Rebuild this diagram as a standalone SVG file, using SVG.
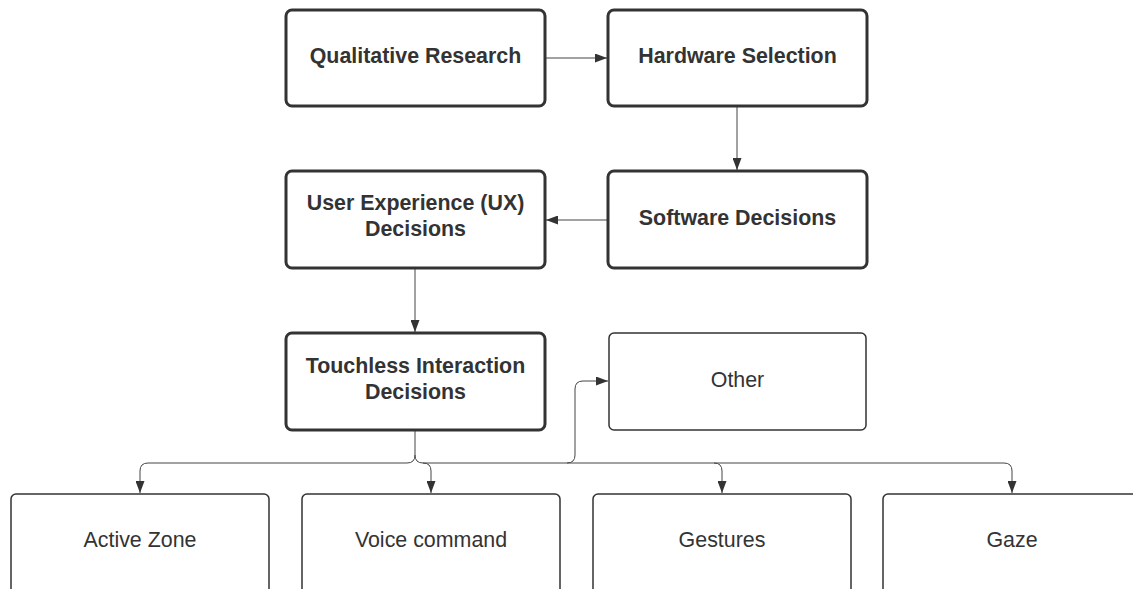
<svg xmlns="http://www.w3.org/2000/svg" width="1133" height="589" viewBox="0 0 1133 589">
<style>
.bold{fill:#fff;stroke:#333;stroke-width:3}
.thin{fill:#fff;stroke:#333;stroke-width:1.5}
.tb{font-family:"Liberation Sans",Arial,sans-serif;font-size:21.4px;font-weight:bold;fill:#333;text-anchor:middle;dominant-baseline:central}
.tn{font-family:"Liberation Sans",Arial,sans-serif;font-size:21.4px;fill:#333;text-anchor:middle;dominant-baseline:central}
.c{fill:none;stroke:#444;stroke-width:1;marker-end:url(#ah)}
</style>
<defs>
<marker id="ah" viewBox="0 0 12 9" refX="12" refY="4.5" markerWidth="12" markerHeight="9" markerUnits="userSpaceOnUse" orient="auto">
<path d="M0,0 L12,4.5 L0,9 Z" fill="#333"/>
</marker>
</defs>
<rect width="1133" height="589" fill="#fff"/>
<g id="connectors">
<path class="c" d="M545,58 H607"/>
<path class="c" d="M737,107 V170"/>
<path class="c" d="M608,220 H546"/>
<path class="c" d="M415,268 V332"/>
<path class="c" d="M415,431 V455 Q415,463 407,463 H148 Q140,463 140,471 V493"/>
<path class="c" d="M415,455 Q415,463 423,463 Q431,463 431,471 V493"/>
<path class="c" d="M423,463 H567 Q575,463 575,455 V389 Q575,381 583,381 H608"/>
<path class="c" d="M567,463 H714 Q722,463 722,471 V493"/>
<path class="c" d="M714,463 H1004 Q1012,463 1012,471 V493"/>
</g>
<g id="n-qualitative"><rect class="bold" x="286" y="10" width="259" height="96" rx="6"/><text class="tb" x="415.5" y="56">Qualitative Research</text></g>
<g id="n-hardware"><rect class="bold" x="608" y="10" width="259" height="96" rx="6"/><text class="tb" x="737.5" y="56">Hardware Selection</text></g>
<g id="n-software"><rect class="bold" x="608" y="171" width="259" height="97" rx="6"/><text class="tb" x="737.5" y="218">Software Decisions</text></g>
<g id="n-ux"><rect class="bold" x="286" y="171" width="259" height="97" rx="6"/><text class="tb" x="415.5" y="203">User Experience (UX)</text><text class="tb" x="415.5" y="229">Decisions</text></g>
<g id="n-touchless"><rect class="bold" x="286" y="333" width="259" height="97" rx="6"/><text class="tb" x="415.5" y="366">Touchless Interaction</text><text class="tb" x="415.5" y="392">Decisions</text></g>
<g id="n-other"><rect class="thin" x="609" y="333" width="257" height="97" rx="5"/><text class="tn" x="737.5" y="380">Other</text></g>
<g id="n-active"><rect class="thin" x="11" y="494" width="258" height="110" rx="5"/><text class="tn" x="140" y="540">Active Zone</text></g>
<g id="n-voice"><rect class="thin" x="302" y="494" width="258" height="110" rx="5"/><text class="tn" x="431" y="540">Voice command</text></g>
<g id="n-gestures"><rect class="thin" x="593" y="494" width="258" height="110" rx="5"/><text class="tn" x="722" y="540">Gestures</text></g>
<g id="n-gaze"><rect class="thin" x="883" y="494" width="258" height="110" rx="5"/><text class="tn" x="1012" y="540">Gaze</text></g>
</svg>
